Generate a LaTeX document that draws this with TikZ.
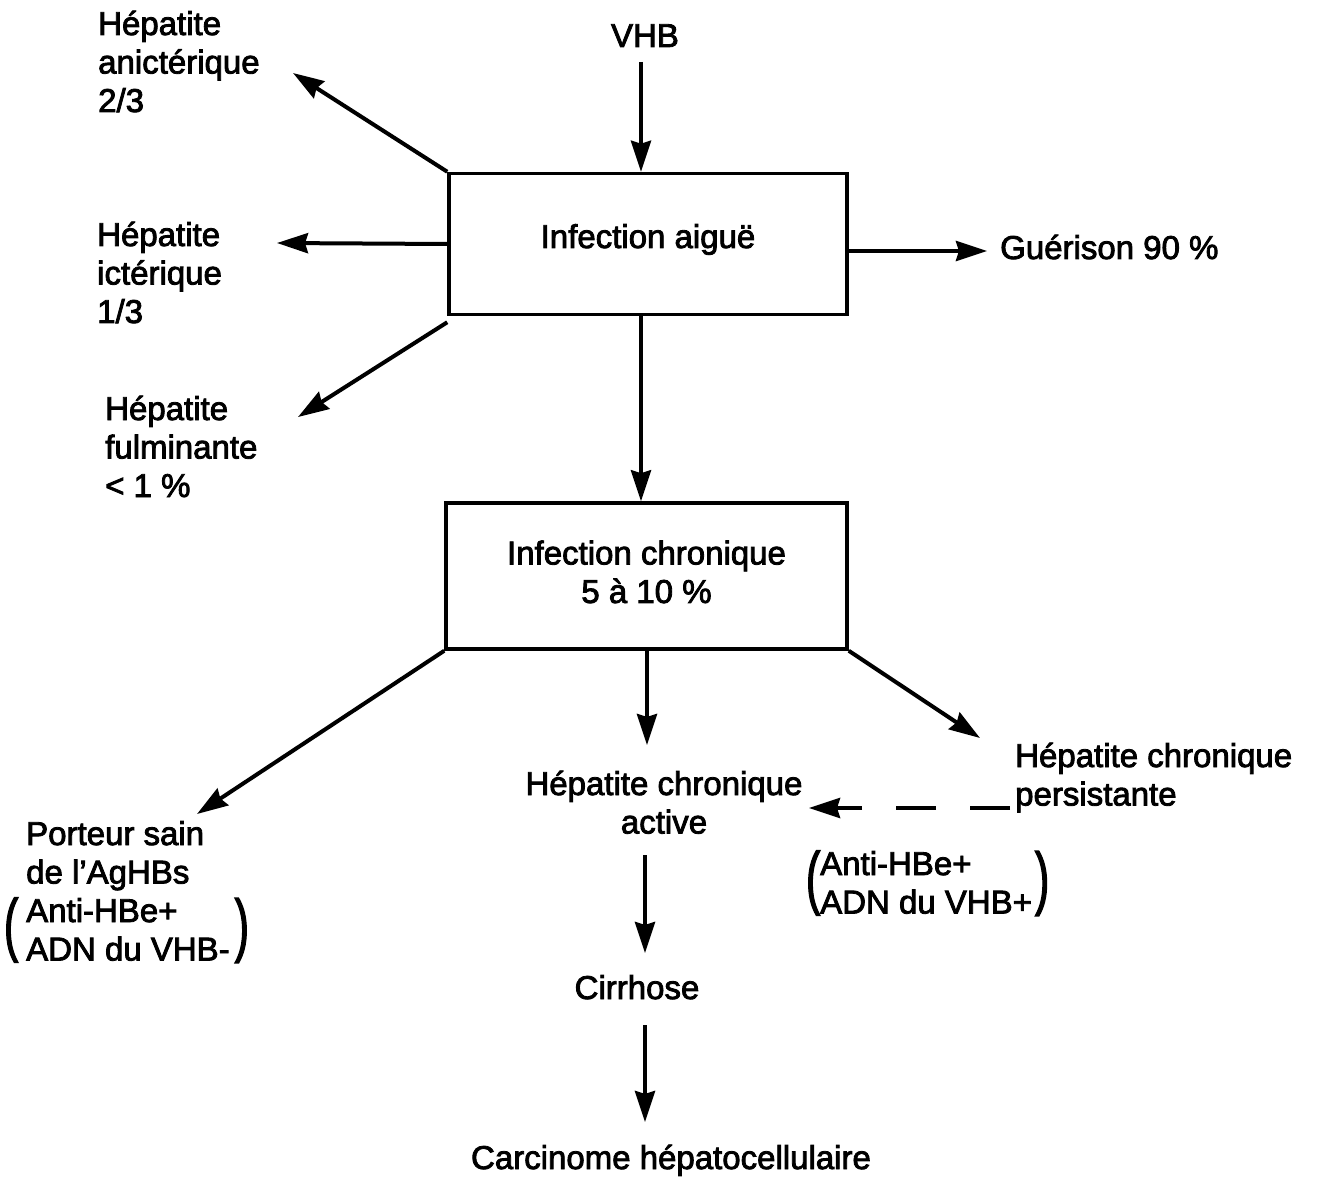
\documentclass[tikz,border=0pt]{standalone}
\usepackage{fontspec}
\setmainfont{Liberation Sans}[FakeBold=2.5]
\usetikzlibrary{arrows.meta}
\newcommand\LLines[1]{\begin{tabular}[t]{@{}l@{}}#1\end{tabular}}
\newcommand\CLines[1]{\begin{tabular}[t]{@{}c@{}}#1\end{tabular}}
\newcommand\OpenPar[1]{\llap{\smash{\raisebox{-26pt}{\scalebox{1.3}[2.1]{(}}}\hspace{#1}}}
\newcommand\ClosePar[1]{\rlap{\hspace{#1}\smash{\raisebox{12pt}{\scalebox{1.3}[2.1]{)}}}}}
\begin{document}
\begin{tikzpicture}[x=1pt,y=-1pt,
  every node/.style={font=\fontsize{33}{38.5}\selectfont, inner sep=0pt},
  box/.style={draw, line width=3.5pt, inner sep=0pt},
  conn/.style={line width=4pt, -{Stealth[length=31pt,width=20pt,inset=3pt]}},
  dashconn/.style={conn, dash pattern=on 40pt off 34pt}]
\useasboundingbox (0,0) rectangle (1318,1185);

% nodes
\node[anchor=base] (vhb) at (645,47) {VHB};
\node[box, minimum width=398pt, minimum height=141pt, text height=20pt, text depth=12pt] (acute) at (648,244) {Infection aiguë};
\node[box, minimum width=401pt, minimum height=146pt] (chronic) at (646.5,576) {\CLines{Infection chronique\\5 à 10 \%}};
\node[anchor=base west] (anict) at (98,35) {\LLines{Hépatite\\anictérique\\2/3}};
\node[anchor=base west] (ict) at (97,246) {\LLines{Hépatite\\ictérique\\1/3}};
\node[anchor=base west] (fulm) at (105,420) {\LLines{Hépatite\\fulminante\\< 1 \%}};
\node[anchor=base west] (guer) at (1000,259) {Guérison 90 \%};
\node[anchor=base west] (porteur) at (26,845) {\LLines{Porteur sain\\de l'AgHBs\\\OpenPar{8pt}Anti-HBe+\\ADN du VHB-\ClosePar{5pt}}};
\node[anchor=base] (active) at (664,795) {\CLines{Hépatite chronique\\active}};
\node[anchor=base west] (persist) at (1015,767) {\LLines{Hépatite chronique\\persistante}};
\node[anchor=base west] (hbvp) at (820,875) {\LLines{\OpenPar{0pt}Anti-HBe+\\ADN du VHB+\ClosePar{3pt}}};
\node[anchor=base] (cirr) at (637,999) {Cirrhose};
\node[anchor=base] (carc) at (671,1169) {Carcinome hépatocellulaire};

% connector ends
\coordinate (sVhb) at (641,62);
\coordinate (tAnict) at (293,73);
\coordinate (tIct) at (277,243);
\coordinate (tFulm) at (298,417);
\coordinate (tGuer) at (987,251);
\coordinate (tPort) at (197,814);
\coordinate (tActive) at (647,745);
\coordinate (tPers) at (980,738);
\coordinate (sDash) at (1010,808);
\coordinate (tDash) at (809,808);
\coordinate (sCirr) at (645,855);
\coordinate (tCirr) at (645,953);
\coordinate (sCarc) at (645,1025);
\coordinate (tCarc) at (645,1122);

% connectors
\draw[conn] (sVhb) -- (sVhb |- acute.north);
\draw[conn] (acute.north west) -- (tAnict);
\draw[conn] (acute.west) -- (tIct);
\draw[conn] ([yshift=-6pt]acute.south west) -- (tFulm);
\draw[conn] (acute.east |- tGuer) -- (tGuer);
\draw[conn] (sVhb |- acute.south) -- (sVhb |- chronic.north);
\draw[conn] (chronic.south west) -- (tPort);
\draw[conn] (tActive |- chronic.south) -- (tActive);
\draw[conn] (chronic.south east) -- (tPers);
\draw[dashconn] (sDash) -- (tDash);
\draw[conn] (sCirr) -- (tCirr);
\draw[conn] (sCarc) -- (tCarc);
\end{tikzpicture}
\end{document}
